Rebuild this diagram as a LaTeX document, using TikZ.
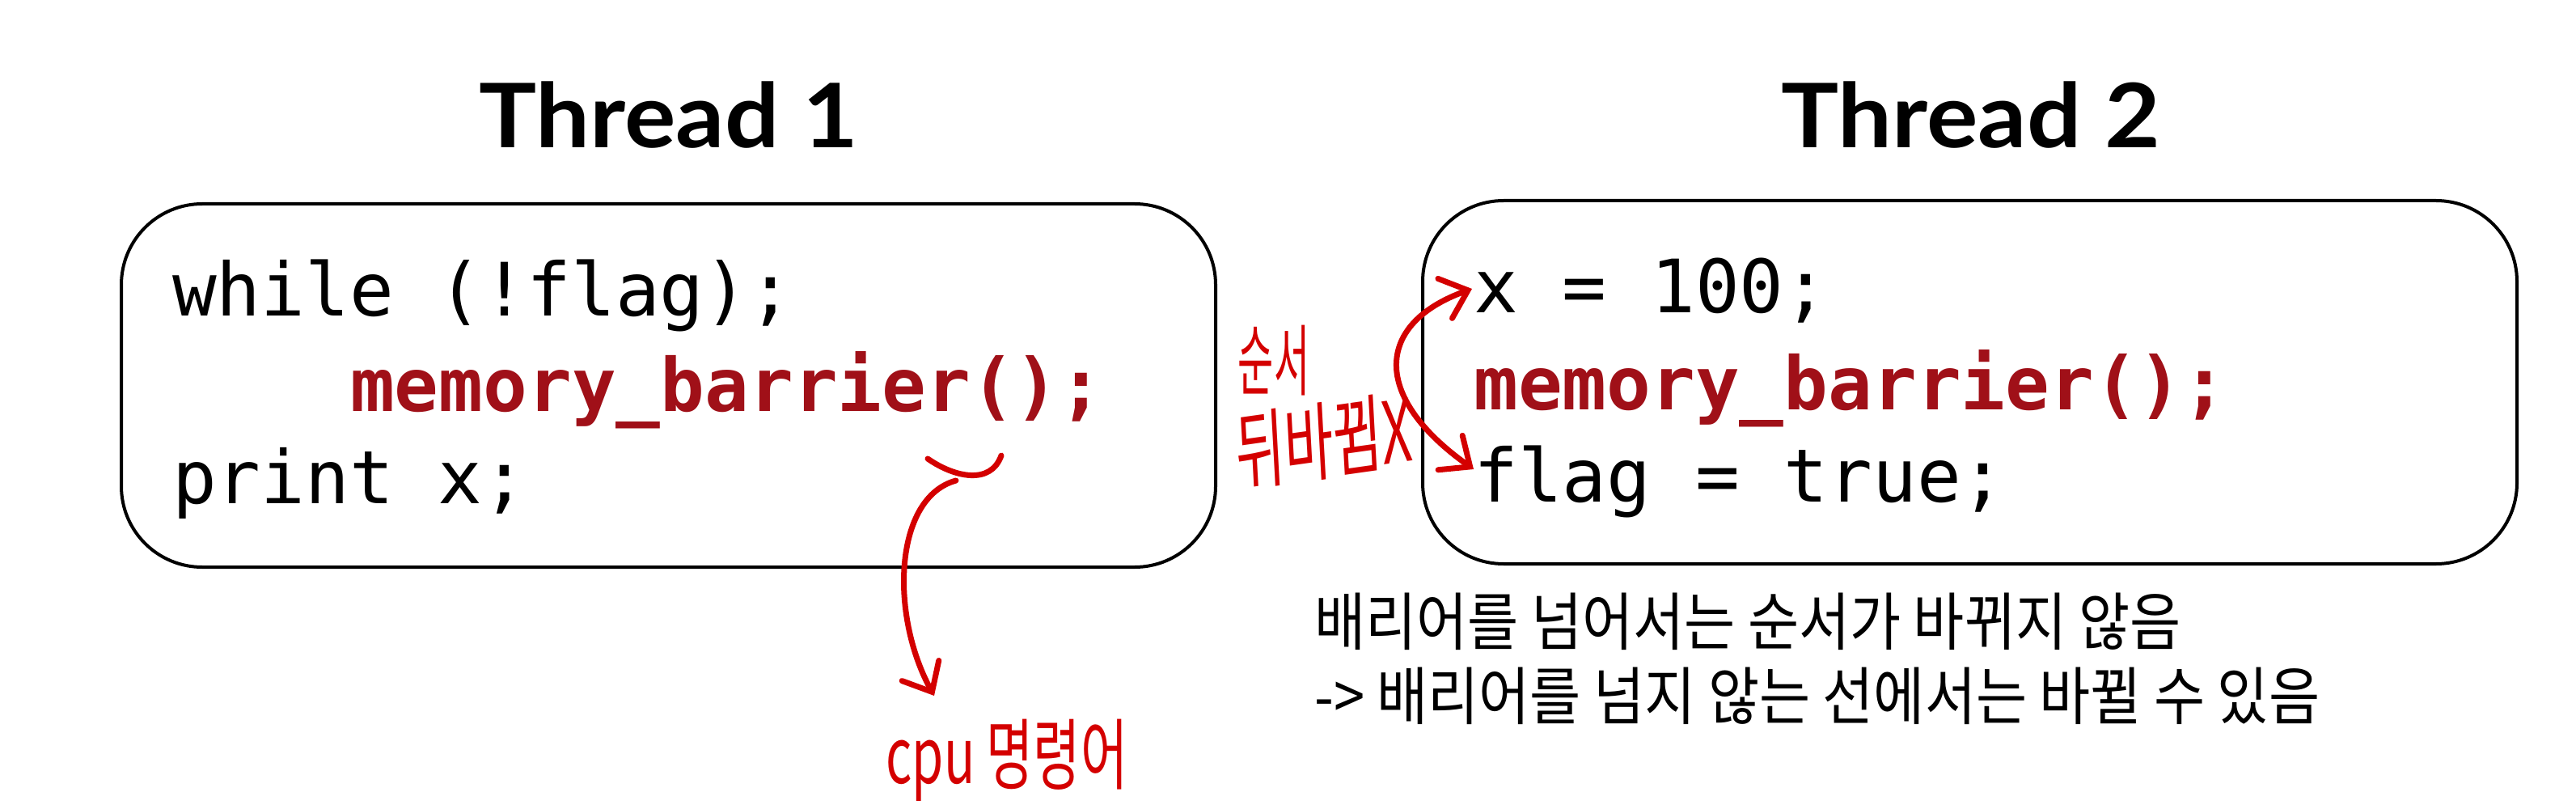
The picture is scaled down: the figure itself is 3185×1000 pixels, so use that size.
\documentclass[tikz,border=0pt]{standalone}
\usepackage{fontspec}
\setmainfont{Lato}
\setmonofont{DejaVu Sans Mono}
\newfontfamily\kr{Noto Sans CJK KR}
\usetikzlibrary{arrows.meta}
\definecolor{barrierred}{HTML}{A01018}
\definecolor{penred}{HTML}{D40000}
\tikzset{
  codebox/.style={draw=black, line width=4, rounded corners=100},
  title/.style={font=\fontsize{110}{120}\selectfont\bfseries, inner sep=0, anchor=base, xscale=1.08},
  code/.style={font=\fontsize{91}{110}\ttfamily, inner sep=0, anchor=base west},
  barrier/.style={code, font=\fontsize{91}{110}\ttfamily\bfseries, text=barrierred},
  note/.style={font=\fontsize{78}{80}\kr, inner sep=0, anchor=base west, xscale=0.88},
  hand/.style={text=penred, inner sep=0},
  pen/.style={draw=penred, line width=7, line cap=round, line join=round},
  penbarb/.tip={Straight Barb[length=30pt, width=52pt, line width=7pt, line cap=round]},
}
\begin{document}
\begin{tikzpicture}[x=1pt, y=-1pt]
\useasboundingbox (0,0) rectangle (3185,1000);
\fill[white] (0,0) rectangle (3185,1000);

% titles
\node[title] (t1) at (827,183) {Thread 1};
\node[title] (t2) at (2437,183) {Thread 2};

% boxes
\draw[codebox] (150,252) rectangle (1503,701);
\draw[codebox] (1759,248) rectangle (3112,697);

% thread 1 code
\node[code] (a1) at (213,390) {while (!flag);};
\node[barrier] (a2) at (433,508) {memory\_barrier();};
\node[code] (a3) at (213,622) {print x;};

% thread 2 code
\node[code] (b1) at (1822,386) {x = 100;};
\node[barrier] (b2) at (1822,506) {memory\_barrier();};
\node[code] (b3) at (1822,620) {flag = true;};

% notes
\node[note] (n1) at (1625,797) {배리어를 넘어서는 순서가 바뀌지 않음};
\node[note] (n2) at (1625,889) {-> 배리어를 넘지 않는 선에서는 바뀔 수 있음};

% handwritten annotations
\node[hand, font=\fontsize{96}{96}\kr, xscale=0.5] (h1) at (1575,446) {순서};
\node[hand, font=\fontsize{106}{106}\kr, xscale=0.62, rotate=5] (h2) at (1637,545) {뒤바뀜X};
\node[hand, font=\fontsize{96}{96}\kr, xscale=0.66] (h3) at (1245,940) {cpu 명령어};

\coordinate (swapTop) at (1820,357);
\coordinate (swapBot) at (1822,580);
\draw[pen, penbarb-penbarb] (swapTop) .. controls (1700,400) and (1695,490) .. (swapBot);

\coordinate (smileL) at (1147,567);
\coordinate (smileR) at (1238,563);
\draw[pen] (smileL) .. controls (1180,590) and (1225,600) .. (smileR);

\coordinate (cpuStart) at (1182,594);
\coordinate (cpuEnd) at (1155,860);
\draw[pen, -penbarb] (cpuStart) .. controls (1105,615) and (1100,760) .. (cpuEnd);
\end{tikzpicture}
\end{document}
